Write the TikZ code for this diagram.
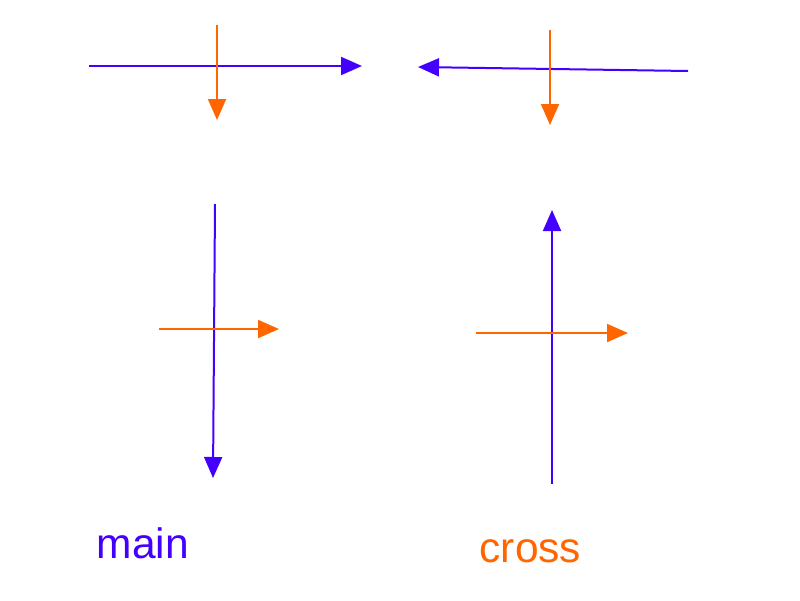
\documentclass[tikz,border=0pt]{standalone}
\usepackage{fontspec}
\setmainfont{Liberation Sans}
\usetikzlibrary{arrows.meta}
\definecolor{mainblue}{HTML}{4400FF}
\definecolor{crossorange}{HTML}{FF6600}
\begin{document}
\begin{tikzpicture}[x=1pt,y=-1pt,
  mainarrow/.style={draw=mainblue,line width=2pt,-{Triangle[length=21pt,width=18pt]}},
  crossarrow/.style={draw=crossorange,line width=2pt,-{Triangle[length=21pt,width=18pt]}},
  lbl/.style={font=\fontsize{42.5}{50}\selectfont,inner sep=0pt,anchor=base west}]
\useasboundingbox (0,0) rectangle (800,600);
% top-left
\coordinate (a1) at (89,66); \coordinate (a2) at (362,66);
\coordinate (b1) at (217,25); \coordinate (b2) at (217,120);
\draw[mainarrow] (a1) -- (a2);
\draw[crossarrow] (b1) -- (b2);
% top-right
\coordinate (c1) at (688,71); \coordinate (c2) at (418,67);
\coordinate (d1) at (550,30); \coordinate (d2) at (550,125);
\draw[mainarrow] (c1) -- (c2);
\draw[crossarrow] (d1) -- (d2);
% bottom-left
\coordinate (e1) at (215,204); \coordinate (e2) at (213,478);
\coordinate (f1) at (159,329); \coordinate (f2) at (279,329);
\draw[mainarrow] (e1) -- (e2);
\draw[crossarrow] (f1) -- (f2);
% bottom-right
\coordinate (g1) at (552,484); \coordinate (g2) at (552,210);
\coordinate (h1) at (476,333); \coordinate (h2) at (628,333);
\draw[mainarrow] (g1) -- (g2);
\draw[crossarrow] (h1) -- (h2);
% labels
\node[lbl,text=mainblue] (main) at (96.5,558) {main};
\node[lbl,text=crossorange] (cross) at (479.5,562) {cross};
\end{tikzpicture}
\end{document}
